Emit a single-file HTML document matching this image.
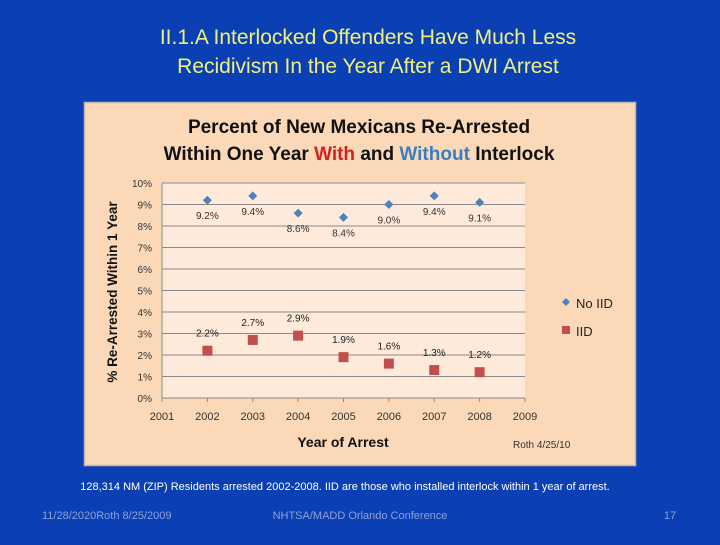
<!DOCTYPE html>
<html><head><meta charset="utf-8"><style>
html,body{margin:0;padding:0;background:#0a40b4;}
body{width:720px;height:540px;overflow:hidden;font-family:"Liberation Sans",sans-serif;}
</style></head><body>
<svg width="720" height="540" xmlns="http://www.w3.org/2000/svg">
<rect x="0" y="0" width="720" height="540" fill="#0a40b4"/>
<text x="368" y="44" text-anchor="middle" font-size="21" fill="#f0f080">II.1.A Interlocked Offenders Have Much Less</text>
<text x="368" y="73" text-anchor="middle" font-size="21" fill="#f0f080">Recidivism In the Year After a DWI Arrest</text>
<rect x="84.5" y="102.5" width="551" height="363" fill="#fbd9b8" stroke="#c8b8a8" stroke-width="1.5"/>
<text x="359" y="133" text-anchor="middle" font-size="19" font-weight="bold" fill="#111">Percent  of New Mexicans Re-Arrested</text>
<text x="359" y="160" text-anchor="middle" font-size="19" font-weight="bold" fill="#111">Within One Year <tspan fill="#d42020">With</tspan> and <tspan fill="#3a7ec0">Without</tspan> Interlock</text>
<g id="plot"></g>
<text x="343" y="447" text-anchor="middle" font-size="14" font-weight="bold" fill="#111">Year of Arrest</text>
<text transform="translate(117,292) rotate(-90)" text-anchor="middle" font-size="13.5" font-weight="bold" fill="#111">% Re-Arrested Within 1 Year</text>
<text x="513" y="448" font-size="10" fill="#333">Roth 4/25/10</text>
<path d="M566 298 l4 4 l-4 4 l-4 -4z" fill="#4f81bd"/>
<text x="576" y="308" font-size="13" fill="#222">No IID</text>
<rect x="562" y="326" width="8" height="8" fill="#c0504d"/>
<text x="576" y="336" font-size="13" fill="#222">IID</text>
<text x="345" y="490" text-anchor="middle" font-size="11" fill="#fff">128,314 NM (ZIP) Residents arrested 2002-2008.  IID are those who installed interlock within 1 year of arrest.</text>
<text x="42" y="519" font-size="11" fill="#8ea0d8">11/28/2020Roth 8/25/2009</text>
<text x="360" y="519" text-anchor="middle" font-size="11" fill="#8ea0d8">NHTSA/MADD Orlando Conference</text>
<text x="670" y="519" text-anchor="middle" font-size="11" fill="#8ea0d8">17</text>
</svg>
<script>
const years = [2002, 2003, 2004, 2005, 2006, 2007, 2008];
const noIID = [9.2, 9.4, 8.6, 8.4, 9.0, 9.4, 9.1];
const iid = [2.2, 2.7, 2.9, 1.9, 1.6, 1.3, 1.2];
const xTicks = [2001, 2002, 2003, 2004, 2005, 2006, 2007, 2008, 2009];
const yTicks = [0, 1, 2, 3, 4, 5, 6, 7, 8, 9, 10];
const NS = "http://www.w3.org/2000/svg";
const g = document.getElementById('plot');
const X0 = 162, X1 = 525, Y0 = 398, Y1 = 183;
const xs = v => X0 + (v - 2001) / 8 * (X1 - X0);
const ys = v => Y0 - v / 10 * (Y0 - Y1);
function mk(tag, attrs){const e=document.createElementNS(NS,tag);for(const k in attrs)e.setAttribute(k,attrs[k]);g.appendChild(e);return e;}
const bg = mk('rect',{x:X0,y:Y1,width:X1-X0,height:Y0-Y1,fill:'#fdeadb'});


yTicks.forEach(t=>{
  if(t>0){const l=mk('line',{x1:X0,x2:X1,y1:ys(t),y2:ys(t),stroke:'#8a8a8a','stroke-width':1});
  
  }
  const tx=mk('text',{x:X0-10,y:ys(t)+4,'text-anchor':'end','font-size':10,fill:'#333'});
  tx.textContent=t+'%';
  
  
});
const ax=mk('line',{x1:X0,x2:X1,y1:Y0,y2:Y0,stroke:'#8a8a8a','stroke-width':1});


const ay=mk('line',{x1:X0,x2:X0,y1:Y1,y2:Y0,stroke:'#8a8a8a','stroke-width':1});


xTicks.forEach(t=>{
  const tk=mk('line',{x1:xs(t),x2:xs(t),y1:Y0,y2:Y0+4,stroke:'#8a8a8a'});
  
  
  const tx=mk('text',{x:xs(t),y:Y0+22,'text-anchor':'middle','font-size':11,fill:'#333'});
  tx.textContent=t;
  
  
});
years.forEach((yr,i)=>{
  const cx=xs(yr), cy=ys(noIID[i]);
  const d=mk('path',{d:`M${cx} ${cy-4.5} l4.5 4.5 l-4.5 4.5 l-4.5 -4.5z`,fill:'#4f81bd'});
  
  
  const lb=mk('text',{x:cx,y:cy+19,'text-anchor':'middle','font-size':10,fill:'#333'});
  lb.textContent=noIID[i].toFixed(1)+'%';
  
  
  const cy2=ys(iid[i]);
  const s=mk('rect',{x:cx-5,y:cy2-5,width:10,height:10,fill:'#c0504d'});
  
  
  const lb2=mk('text',{x:cx,y:cy2-14,'text-anchor':'middle','font-size':10,fill:'#222'});
  lb2.textContent=iid[i].toFixed(1)+'%';
  
  
});
</script>
</body></html>
